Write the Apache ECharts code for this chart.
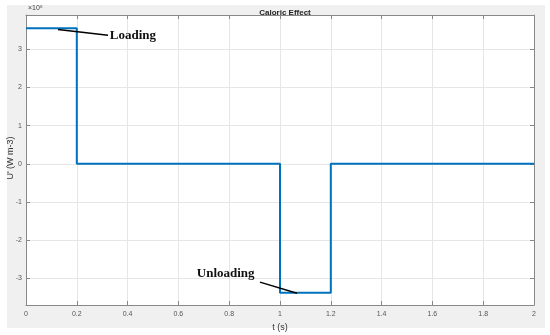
<!DOCTYPE html>
<html><head><meta charset="utf-8">
<script src="https://cdn.jsdelivr.net/npm/echarts@6/dist/echarts.min.js"></script>
<style>html,body{margin:0;padding:0;background:#fff}#c{width:550px;height:335px}</style>
</head><body><div id="c"></div>
<script>
// time breakpoints (s) and caloric source U' (×10^8 W m-3), held until next breakpoint
const tValues = [0, 0.2, 1.0, 1.2, 2.0];
const uValues = [3.55, 0, -3.38, 0, 0];
const xTicks = [0, 0.2, 0.4, 0.6, 0.8, 1, 1.2, 1.4, 1.6, 1.8, 2];
const yTicks = [-3, -2, -1, 0, 1, 2, 3];
const chartTitle = 'Caloric Effect';
const xName = 't (s)';
const yName = "U' (W m-3)";
// annotations in data space: [label, arrowStart, arrowEnd, textAnchor]
const annLoading = ['Loading', [0.126, 3.52], [0.323, 3.37], [0.33, 3.37]];
const annUnloading = ['Unloading', [1.067, -3.39], [0.921, -3.10], [0.90, -2.87]];

const chart = echarts.init(document.getElementById('c'), null, {renderer: 'canvas'});
const grid = {left: 26, top: 15, width: 508, height: 290, outerBoundsMode: 'none', containLabel: false};
const tickFont = {fontFamily: 'Liberation Sans', fontSize: 7, color: '#555'};
const option = {
  animation: false,
  backgroundColor: '#fff',
  graphic: [
    {type: 'rect', z: -10, shape: {x: 7, y: 5, width: 538, height: 323}, style: {fill: '#f0f0f0'}},
    {type: 'rect', z: -9, shape: {x: 26, y: 15, width: 508, height: 290}, style: {fill: '#fff'}},
    {type: 'text', left: 28, top: 5, style: {text: '×10⁸', fontFamily: 'Liberation Sans', fontSize: 7, fill: '#444'}},
    {type: 'text', x: 11, y: 158, rotation: Math.PI / 2,
      style: {text: yName, fontFamily: 'Liberation Sans', fontSize: 9, fill: '#333', align: 'center', verticalAlign: 'middle'}}
  ],
  title: {text: chartTitle, left: 280, textAlign: 'center', top: 4,
    textStyle: {fontFamily: 'Liberation Sans', fontSize: 8, fontWeight: 'bold', color: '#222'}},
  grid: grid,
  xAxis: [{
    type: 'value', min: 0, max: 2, interval: 0.2,
    name: xName, nameLocation: 'middle', nameGap: 17,
    nameTextStyle: {fontFamily: 'Liberation Sans', fontSize: 9, color: '#333'},
    axisLine: {show: true, onZero: false, lineStyle: {color: '#888', width: 1}},
    axisTick: {show: true, inside: true, length: 4, lineStyle: {color: '#888'}},
    axisLabel: Object.assign({margin: 6, formatter: v => String(+v.toFixed(1))}, tickFont),
    splitLine: {show: true, lineStyle: {color: '#e6e6e6', width: 1}}
  }, {
    type: 'value', min: 0, max: 2, interval: 0.2, position: 'top',
    axisLine: {show: true, onZero: false, lineStyle: {color: '#888'}},
    axisTick: {show: true, inside: true, length: 4, lineStyle: {color: '#888'}},
    axisLabel: {show: false}, splitLine: {show: false}
  }],
  yAxis: [{
    type: 'value', min: -3.7, max: 3.9,
    axisLine: {show: true, onZero: false, lineStyle: {color: '#888', width: 1}},
    axisTick: {show: true, inside: true, length: 4, lineStyle: {color: '#888'}, customValues: yTicks},
    axisLabel: Object.assign({margin: 4, customValues: yTicks}, tickFont),
    splitLine: {show: true, lineStyle: {color: '#e6e6e6', width: 1}}
  }, {
    type: 'value', min: -3.7, max: 3.9, position: 'right',
    axisLine: {show: true, onZero: false, lineStyle: {color: '#888'}},
    axisTick: {show: true, inside: true, length: 4, lineStyle: {color: '#888'}, customValues: yTicks},
    axisLabel: {show: false, customValues: yTicks}, splitLine: {show: false}
  }],
  series: [{
    type: 'line', step: 'end', showSymbol: false,
    data: tValues.map((t, i) => [t, uValues[i]]),
    lineStyle: {color: '#0072BD', width: 2}, z: 5
  }]
};
chart.setOption(option);

function addAnnotations() {
  const els = [];
  [annLoading, annUnloading].forEach((a, idx) => {
    const p1 = chart.convertToPixel({gridIndex: 0}, a[1]);
    const p2 = chart.convertToPixel({gridIndex: 0}, a[2]);
    const pt = chart.convertToPixel({gridIndex: 0}, a[3]);
    els.push({type: 'line', z: 20, shape: {x1: p1[0], y1: p1[1], x2: p2[0], y2: p2[1]},
      style: {stroke: '#000', lineWidth: 1.5}});
    els.push({type: 'text', z: 20, x: pt[0], y: pt[1],
      style: {text: a[0], fontFamily: 'Liberation Serif', fontWeight: 'bold', fontSize: 13,
        fill: '#111', align: idx === 0 ? 'left' : 'right', verticalAlign: 'middle'}});
  });
  chart.setOption({graphic: option.graphic.concat(els)});
}
addAnnotations();
</script></body></html>
